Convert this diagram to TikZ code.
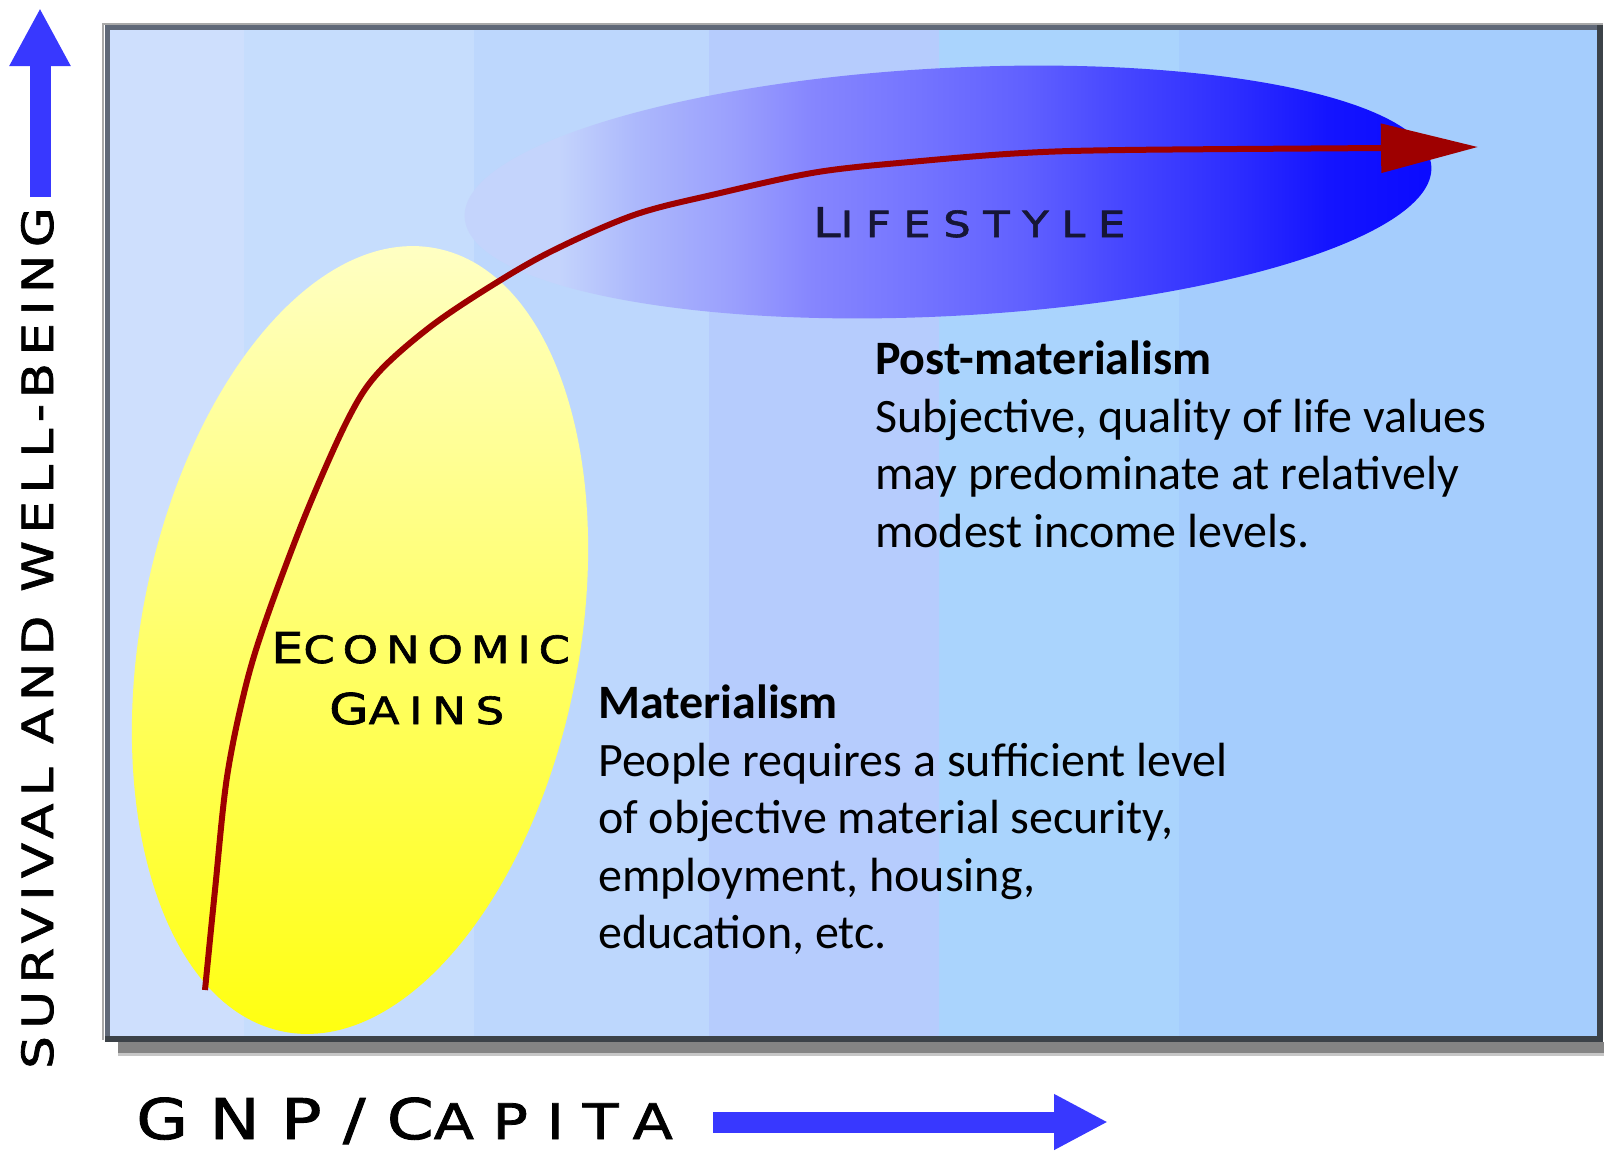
\documentclass[tikz,border=0pt]{standalone}
\usepackage{fontspec}
\setmainfont{Carlito}
\newfontfamily\platefont[FakeStretch=1.2,FakeBold=1.6]{DejaVu Sans}
\usetikzlibrary{arrows.meta}

% background bands
\definecolor{bandA}{HTML}{CEDFFD}
\definecolor{bandB}{HTML}{C6DDFD}
\definecolor{bandC}{HTML}{BDD7FD}
\definecolor{bandD}{HTML}{B6CCFD}
\definecolor{bandE}{HTML}{AAD4FD}
\definecolor{bandF}{HTML}{A5CDFD}
% frame
\definecolor{frameOuter}{HTML}{A9A9A9}
\definecolor{frameLight}{HTML}{5F6878}
\definecolor{frameDark}{HTML}{3C4248}
\definecolor{shadowA}{HTML}{848484}
\definecolor{shadowB}{HTML}{C6C6C6}
% regions and curve
\definecolor{yelTop}{HTML}{FFFFC8}
\definecolor{yelMid}{HTML}{FFFF86}
\definecolor{yelBot}{HTML}{FFFF0C}
\definecolor{lsA}{HTML}{C4D4FC}
\definecolor{lsB}{HTML}{ACB8FC}
\definecolor{lsC}{HTML}{9A9FFD}
\definecolor{lsD}{HTML}{8686FE}
\definecolor{lsE}{HTML}{7474FF}
\definecolor{lsF}{HTML}{6060FF}
\definecolor{lsG}{HTML}{4646FF}
\definecolor{lsH}{HTML}{2E2EFF}
\definecolor{lsI}{HTML}{1414FF}
\definecolor{lsJ}{HTML}{0A0AFF}
\definecolor{curveRed}{HTML}{9E0000}
\definecolor{axisBlue}{HTML}{3838FF}
\definecolor{navy}{HTML}{161636}

\pgfdeclarehorizontalshading{lifestyleshade}{100bp}{%
  color(0bp)=(lsA); color(25bp)=(lsA); color(30bp)=(lsA); color(34bp)=(lsB);
  color(39bp)=(lsC); color(43bp)=(lsD); color(48.5bp)=(lsE);
  color(54bp)=(lsF); color(59bp)=(lsG); color(64.5bp)=(lsH);
  color(69.5bp)=(lsI); color(75bp)=(lsJ); color(100bp)=(lsJ)}

\tikzset{
  bodytext/.style={anchor=base west, inner sep=0pt, font=\fontsize{48pt}{57.6pt}\selectfont},
  platelabel/.style={anchor=base west, inner sep=0pt},
  axisarrow/.style={axisBlue, line width=21pt},
}

\begin{document}
\begin{tikzpicture}[x=1pt,y=-1pt]
\useasboundingbox (0,0) rectangle (1604,1151);

% plot area: vertical colour bands
\fill[bandA] (108,28) rectangle (244,1036);
\fill[bandB] (244,28) rectangle (474,1036);
\fill[bandC] (474,28) rectangle (709,1036);
\fill[bandD] (709,28) rectangle (939,1036);
\fill[bandE] (939,28) rectangle (1179,1036);
\fill[bandF] (1179,28) rectangle (1598,1036);

% frame with drop shadow
\fill[shadowA] (118,1042) rectangle (1604,1053);
\fill[shadowB] (118,1053) rectangle (1604,1056);
\draw[frameOuter, line width=2pt] (103,1040) -- (103,24) -- (1603,24);
\draw[frameLight, line width=5pt] (107,1036) -- (107,27) -- (1598,27);
\draw[frameDark, line width=6pt] (1600,25) -- (1600,1039) -- (105,1039);

% lifestyle region
\shade[shading=lifestyleshade, rotate around={3:(948,192)}]
  (948,192) ellipse [x radius=484, y radius=124];

% economic gains region
\shade[top color=yelTop, middle color=yelMid, bottom color=yelBot,
       rotate around={-11:(360,640)}]
  (360,640) ellipse [x radius=219, y radius=399];

% development path
\draw[curveRed, line width=6pt, -{Triangle[length=97pt,width=48pt]}]
  plot[smooth, tension=0.55] coordinates {
    (205,990) (215,890) (227,777) (246,685) (268,614) (307,511)
    (348,419) (378,373) (430,327) (491,286) (552,251) (634,215)
    (716,194) (818,172) (921,161) (1023,153) (1125,150) (1381,148)
    (1478,147)};

% region labels
\node[platelabel] (econ) at (271,663)
  {\platefont\addfontfeatures{LetterSpace=21}\fontsize{42.5pt}{42.5pt}\selectfont E\fontsize{37.5pt}{37.5pt}\selectfont CONOMIC};
\node[platelabel] (gains) at (329,724)
  {\platefont\addfontfeatures{LetterSpace=26}\fontsize{42.5pt}{42.5pt}\selectfont G\fontsize{37.5pt}{37.5pt}\selectfont AINS};
\node[platelabel, text=navy] (life) at (813,237)
  {\platefont\addfontfeatures{LetterSpace=35}\fontsize{41pt}{41pt}\selectfont L\fontsize{36pt}{36pt}\selectfont IFESTYLE};

% axes
\coordinate (ybase) at (40,197);
\coordinate (ytip) at (40,8);
\draw[axisarrow, -{Triangle[length=58pt,width=57pt]}] (ybase) -- (ytip);
\coordinate (xbase) at (713,1122);
\coordinate (xtip) at (1108,1122);
\draw[axisarrow, -{Triangle[length=54pt,width=52pt]}] (xbase) -- (xtip);

\node[platelabel, rotate=90] (ylabel) at (53,1069)
  {\platefont\addfontfeatures{LetterSpace=17}\fontsize{43pt}{43pt}\selectfont SURVIVAL AND WELL-BEING};
\node[platelabel] (xlabel) at (136,1139)
  {\platefont\addfontfeatures{LetterSpace=38}\fontsize{56pt}{56pt}\selectfont GNP/C\fontsize{49pt}{49pt}\selectfont APITA};

% explanatory text
\node[bodytext] (pm1) at (875,374) {\bfseries Post-materialism};
\node[bodytext] (pm2) at (875,432) {Subjective, quality of life values};
\node[bodytext] (pm3) at (875,489) {may predominate at relatively};
\node[bodytext] (pm4) at (875,547) {modest income levels.};

\node[bodytext] (m1) at (598,718) {\bfseries Materialism};
\node[bodytext] (m2) at (598,776) {People requires a sufficient level};
\node[bodytext] (m3) at (598,833) {of objective material security,};
\node[bodytext] (m4) at (598,891) {employment, housing,};
\node[bodytext] (m5) at (598,948) {education, etc.};
\end{tikzpicture}
\end{document}
